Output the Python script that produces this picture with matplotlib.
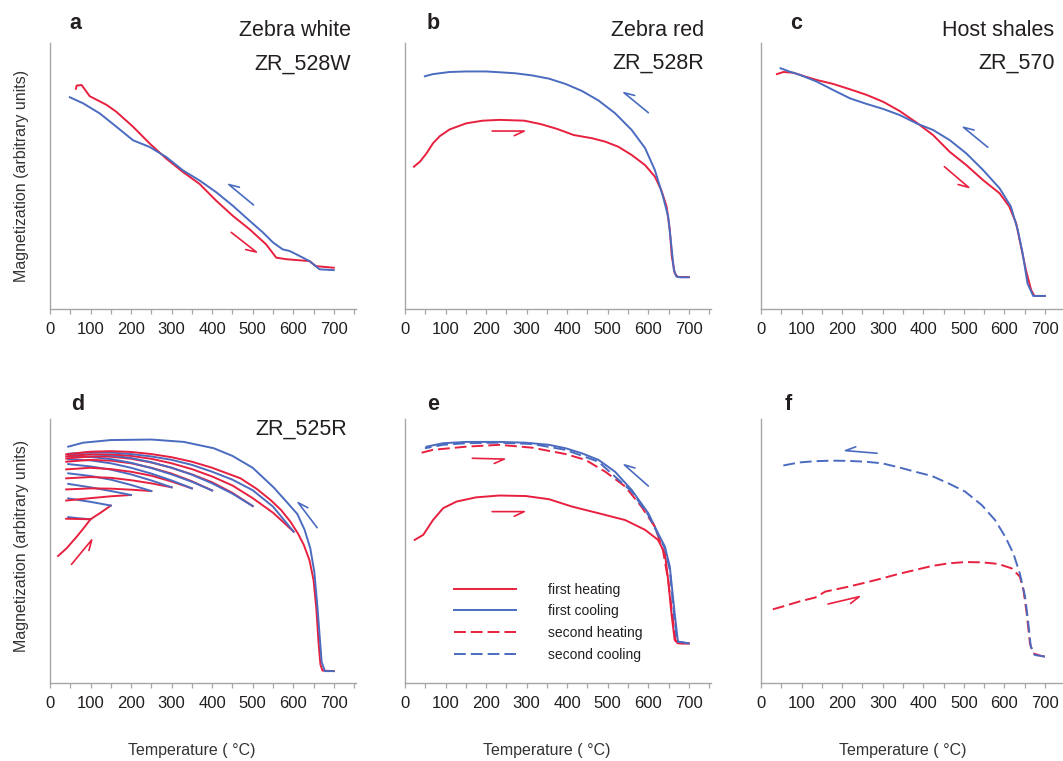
import numpy as np
import matplotlib
matplotlib.use("Agg")
import matplotlib.pyplot as plt

plt.rcParams["font.family"] = ["Liberation Sans", "DejaVu Sans"]
plt.rcParams["lines.scale_dashes"] = False

RED = "#E8203F"
BLUE = "#4A6BBF"
DASH = (8.5, 3.6)

# ---- data (temperature in degC, magnetization normalised to the axis height) ----
# a: Zebra white ZR_528W
a_heat_T = [64, 66, 78, 98, 140, 164, 205, 246, 287, 328, 369, 410, 451, 492, 533, 558, 583, 640, 656, 700]
a_heat_M = [0.828, 0.840, 0.842, 0.800, 0.767, 0.741, 0.685, 0.622, 0.565, 0.515, 0.470, 0.407, 0.350,
            0.300, 0.243, 0.193, 0.187, 0.180, 0.161, 0.155]
a_cool_T = [700, 665, 640, 607, 591, 574, 550, 525, 492, 451, 410, 369, 328, 287, 246, 205, 164, 123, 82, 49]
a_cool_M = [0.146, 0.149, 0.180, 0.206, 0.218, 0.224, 0.250, 0.288, 0.332, 0.388, 0.439, 0.483, 0.521,
            0.571, 0.609, 0.634, 0.685, 0.735, 0.773, 0.796]

# b: Zebra red ZR_528R
b_heat_T = [22, 37, 53, 69, 86, 110, 151, 192, 233, 294, 335, 375, 416, 461, 494, 526, 559, 592, 616,
            632, 645, 653, 658, 665, 673, 700]
b_heat_M = [0.535, 0.554, 0.585, 0.623, 0.650, 0.675, 0.698, 0.708, 0.711, 0.708, 0.695, 0.677, 0.654,
            0.642, 0.629, 0.610, 0.579, 0.541, 0.498, 0.447, 0.386, 0.298, 0.198, 0.135, 0.120, 0.120]
b_cool_T = [700, 681, 669, 663, 657, 649, 636, 616, 592, 559, 518, 477, 436, 396, 355, 314, 273, 233,
            200, 151, 110, 69, 49]
b_cool_M = [0.119, 0.119, 0.122, 0.148, 0.236, 0.348, 0.424, 0.523, 0.605, 0.673, 0.736, 0.784, 0.820,
            0.846, 0.866, 0.878, 0.886, 0.890, 0.893, 0.893, 0.891, 0.883, 0.875]

# c: Host shales ZR_570
c_heat_T = [39, 55, 80, 104, 137, 178, 219, 260, 301, 342, 383, 424, 465, 506, 547, 588, 612, 629,
            641, 653, 666, 674, 700]
c_heat_M = [0.883, 0.891, 0.888, 0.876, 0.861, 0.846, 0.826, 0.805, 0.779, 0.744, 0.701, 0.654, 0.591,
            0.541, 0.485, 0.435, 0.385, 0.322, 0.234, 0.147, 0.071, 0.049, 0.049]
c_cool_T = [700, 671, 657, 645, 633, 616, 588, 547, 506, 465, 424, 383, 342, 301, 260, 219, 178, 137,
            96, 71, 48]
c_cool_M = [0.049, 0.049, 0.096, 0.209, 0.297, 0.385, 0.454, 0.523, 0.585, 0.635, 0.673, 0.698, 0.729,
            0.752, 0.771, 0.792, 0.823, 0.855, 0.880, 0.892, 0.905]

# d: ZR_525R, stepwise heating/cooling cycles (Tmax 100 ... 700)
d_heat_T = [
    [20, 41, 66, 86, 100],
    [40, 70, 100, 125, 150],
    [40, 100, 150, 200],
    [40, 100, 150, 200, 250],
    [40, 100, 150, 200, 250, 300],
    [40, 100, 150, 200, 250, 300, 350],
    [40, 100, 150, 200, 250, 300, 350, 400],
    [40, 100, 150, 200, 250, 300, 350, 400, 450, 500],
    [40, 100, 150, 200, 250, 300, 350, 400, 450, 500, 550, 601],
    [40, 100, 150, 200, 250, 300, 350, 400, 470, 510, 544, 570, 593, 612, 626, 640, 650, 657, 662,
     667, 672, 700],
]
d_heat_M = [
    [0.481, 0.510, 0.554, 0.592, 0.620],
    [0.622, 0.621, 0.620, 0.645, 0.672],
    [0.691, 0.700, 0.707, 0.712],
    [0.733, 0.737, 0.736, 0.732, 0.727],
    [0.775, 0.780, 0.777, 0.768, 0.756, 0.741],
    [0.809, 0.815, 0.810, 0.800, 0.785, 0.763, 0.737],
    [0.838, 0.845, 0.842, 0.832, 0.815, 0.793, 0.764, 0.729],
    [0.850, 0.858, 0.857, 0.849, 0.835, 0.815, 0.790, 0.760, 0.720, 0.670],
    [0.858, 0.866, 0.866, 0.860, 0.849, 0.832, 0.810, 0.782, 0.748, 0.700, 0.645, 0.573],
    [0.866, 0.876, 0.878, 0.875, 0.867, 0.855, 0.838, 0.815, 0.775, 0.735, 0.693, 0.655, 0.611, 0.565,
     0.523, 0.465, 0.390, 0.280, 0.160, 0.070, 0.047, 0.045],
]
d_cool_T = [
    [100, 70, 45],
    [150, 100, 45],
    [200, 150, 100, 45],
    [250, 200, 150, 100, 45],
    [300, 250, 200, 150, 100, 45],
    [350, 300, 250, 200, 150, 100, 45],
    [400, 350, 300, 250, 200, 150, 100, 45],
    [500, 450, 400, 350, 300, 250, 200, 150, 100, 45],
    [601, 550, 500, 450, 400, 350, 300, 250, 200, 150, 100, 45],
    [700, 678, 670, 664, 659, 652, 642, 628, 610, 587, 552, 500, 450, 404, 330, 250, 150, 82, 45],
]
d_cool_M = [
    [0.620, 0.624, 0.628],
    [0.672, 0.686, 0.699],
    [0.712, 0.727, 0.741, 0.754],
    [0.727, 0.750, 0.770, 0.784, 0.794],
    [0.741, 0.767, 0.790, 0.808, 0.820, 0.829],
    [0.737, 0.767, 0.793, 0.815, 0.832, 0.843, 0.847],
    [0.729, 0.762, 0.790, 0.814, 0.834, 0.848, 0.856, 0.857],
    [0.670, 0.717, 0.756, 0.789, 0.815, 0.836, 0.852, 0.862, 0.866, 0.864],
    [0.573, 0.668, 0.730, 0.770, 0.800, 0.826, 0.845, 0.858, 0.867, 0.873, 0.874, 0.868],
    [0.045, 0.045, 0.080, 0.200, 0.300, 0.420, 0.510, 0.580, 0.640, 0.680, 0.740, 0.815, 0.860, 0.889,
     0.913, 0.922, 0.920, 0.910, 0.895],
]

# e: ZR_528R with a second heating/cooling run
e_heat1_T = [24, 45, 69, 94, 127, 175, 233, 298, 355, 412, 477, 543, 592, 624, 641, 649, 657, 665, 673, 700]
e_heat1_M = [0.542, 0.561, 0.617, 0.662, 0.687, 0.703, 0.710, 0.708, 0.696, 0.668, 0.643, 0.617, 0.580,
             0.542, 0.491, 0.390, 0.264, 0.163, 0.150, 0.150]
e_cool1_T = [700, 673, 665, 653, 641, 624, 600, 559, 518, 477, 436, 396, 355, 298, 233, 151, 94, 53]
e_cool1_M = [0.150, 0.157, 0.264, 0.441, 0.516, 0.567, 0.643, 0.731, 0.800, 0.845, 0.870, 0.889, 0.902,
             0.910, 0.913, 0.913, 0.908, 0.895]
e_heat2_T = [41, 69, 151, 233, 314, 396, 445, 494, 543, 583, 616, 636, 649, 659, 667, 673, 700]
e_heat2_M = [0.872, 0.883, 0.895, 0.902, 0.891, 0.867, 0.845, 0.800, 0.744, 0.668, 0.592, 0.504, 0.390,
             0.264, 0.163, 0.150, 0.150]
e_cool2_T = [700, 671, 663, 653, 641, 600, 559, 477, 396, 314, 233, 151, 94, 49]
e_cool2_M = [0.150, 0.157, 0.264, 0.428, 0.510, 0.636, 0.725, 0.838, 0.883, 0.905, 0.910, 0.908, 0.902, 0.889]

# f: second run only
f_heat2_T = [29, 52, 93, 134, 158, 216, 257, 298, 339, 380, 421, 462, 503, 544, 585, 618, 638, 647,
             655, 663, 671, 692, 700]
f_heat2_M = [0.279, 0.289, 0.308, 0.324, 0.346, 0.365, 0.380, 0.396, 0.413, 0.428, 0.443, 0.453, 0.458,
             0.457, 0.451, 0.434, 0.403, 0.352, 0.264, 0.150, 0.112, 0.102, 0.100]
f_cool2_T = [700, 675, 665, 659, 651, 638, 622, 602, 577, 544, 503, 462, 421, 380, 339, 298, 257, 216,
             175, 134, 93, 49]
f_cool2_M = [0.100, 0.106, 0.138, 0.226, 0.327, 0.415, 0.491, 0.554, 0.617, 0.674, 0.725, 0.756, 0.784,
             0.800, 0.817, 0.832, 0.838, 0.841, 0.842, 0.840, 0.835, 0.822]

# direction arrows: (tail T, tail M, tip T, tip M, colour)
a_arrows = [(502, 0.391, 441, 0.468, BLUE), (447, 0.288, 509, 0.214, RED)]
b_arrows = [(215, 0.669, 294, 0.669, RED), (600, 0.738, 540, 0.813, BLUE)]
c_arrows = [(559, 0.608, 499, 0.683, BLUE), (452, 0.535, 512, 0.457, RED)]
d_arrows = [(53, 0.449, 103, 0.542, RED), (659, 0.588, 612, 0.683, BLUE)]
e_arrows = [(166, 0.851, 245, 0.848, RED), (215, 0.649, 294, 0.649, RED), (600, 0.746, 541, 0.826, BLUE)]
f_arrows = [(286, 0.870, 208, 0.880, BLUE), (165, 0.299, 242, 0.327, RED)]

legend_labels = ["first heating", "first cooling", "second heating", "second cooling"]
x_major = np.arange(0, 701, 100)
x_minor = np.arange(50, 751, 100)


def half_arrow(ax, tail_t, tail_m, tip_t, tip_m, color):
    # shaft plus a single barb, barb drawn in pixel space so it looks the same in every panel
    p_tail = ax.transData.transform((tail_t, tail_m))
    p_tip = ax.transData.transform((tip_t, tip_m))
    d = (p_tail - p_tip) / np.linalg.norm(p_tail - p_tip)
    a = np.radians(25)
    rot = np.array([[np.cos(a), -np.sin(a)], [np.sin(a), np.cos(a)]])
    barb = ax.transData.inverted().transform(p_tip + rot @ d * 11)
    ax.plot([tail_t, tip_t, barb[0]], [tail_m, tip_m, barb[1]], color=color, lw=1.2,
            solid_capstyle="round", solid_joinstyle="round")


def style_axis(ax):
    ax.set_xlim(0, 755)
    ax.set_ylim(0, 1)
    for side in ["top", "right"]:
        ax.spines[side].set_visible(False)
    for side in ["left", "bottom"]:
        ax.spines[side].set_color("#A6A6A6")
        ax.spines[side].set_linewidth(1.0)
    ax.set_yticks([])
    ax.set_xticks(x_major)
    ax.set_xticks(x_minor, minor=True)
    ax.tick_params(axis="x", which="both", direction="out", length=3.5, width=0.9,
                   color="#A6A6A6", labelsize=12, labelcolor="#231F20", pad=6)


fig = plt.figure(figsize=(10.63, 7.61), dpi=100)
lefts = [0.047, 0.381, 0.716]
w = 0.288
row1 = [fig.add_axes([l, 0.594, w, 0.3495]) for l in lefts]
row2 = [fig.add_axes([l, 0.1025, w, 0.347]) for l in lefts]
ax_a, ax_b, ax_c = row1
ax_d, ax_e, ax_f = row2
for ax in row1 + row2:
    style_axis(ax)

lw = 1.4
ax_a.plot(a_heat_T, a_heat_M, color=RED, lw=lw)
ax_a.plot(a_cool_T, a_cool_M, color=BLUE, lw=lw)
ax_b.plot(b_heat_T, b_heat_M, color=RED, lw=lw)
ax_b.plot(b_cool_T, b_cool_M, color=BLUE, lw=lw)
ax_c.plot(c_heat_T, c_heat_M, color=RED, lw=lw)
ax_c.plot(c_cool_T, c_cool_M, color=BLUE, lw=lw)

for i in range(len(d_heat_T)):
    ax_d.plot(d_heat_T[i], d_heat_M[i], color=RED, lw=lw)
    ax_d.plot(d_cool_T[i], d_cool_M[i], color=BLUE, lw=lw)

l1, = ax_e.plot(e_heat1_T, e_heat1_M, color=RED, lw=lw)
l2, = ax_e.plot(e_cool1_T, e_cool1_M, color=BLUE, lw=lw)
l3, = ax_e.plot(e_heat2_T, e_heat2_M, color=RED, lw=lw, ls="--", dashes=DASH)
l4, = ax_e.plot(e_cool2_T, e_cool2_M, color=BLUE, lw=lw, ls="--", dashes=DASH)
ax_e.legend([l1, l2, l3, l4], legend_labels, frameon=False, loc="upper left",
            bbox_to_anchor=(0.16, 0.38), borderaxespad=0, borderpad=0,
            handlelength=4.5, handletextpad=2.3, labelspacing=0.55, fontsize=10,
            labelcolor="#231F20")

ax_f.plot(f_heat2_T, f_heat2_M, color=RED, lw=lw, ls="--", dashes=DASH)
ax_f.plot(f_cool2_T, f_cool2_M, color=BLUE, lw=lw, ls="--", dashes=DASH)

for ax, arrows in zip(row1 + row2, [a_arrows, b_arrows, c_arrows, d_arrows, e_arrows, f_arrows]):
    for arr in arrows:
        half_arrow(ax, *arr)

# panel letters
for ax, letter, x, y in zip(row1 + row2, "abcdef",
                            [0.065, 0.072, 0.095, 0.069, 0.072, 0.078],
                            [1.053, 1.053, 1.053, 1.034, 1.034, 1.034]):
    ax.text(x, y, letter, transform=ax.transAxes, fontsize=15.5, fontweight="bold",
            color="#231F20", va="baseline")

# sample names
for ax, name, x in zip(row1, ["Zebra white", "Zebra red", "Host shales"], [0.984, 0.977, 0.957]):
    ax.text(x, 1.026, name, transform=ax.transAxes, fontsize=15.5, ha="right",
            va="baseline", color="#231F20")
for ax, code, x, y in zip([ax_a, ax_b, ax_c, ax_d], ["ZR_528W", "ZR_528R", "ZR_570", "ZR_525R"],
                          [0.984, 0.977, 0.961, 0.971], [0.898, 0.902, 0.902, 0.939]):
    ax.text(x, y, code, transform=ax.transAxes, fontsize=15.5, ha="right",
            va="baseline", color="#231F20")

for ax in [ax_a, ax_d]:
    ax.text(-0.093, 0.5 if ax is ax_a else 0.52, "Magnetization (arbitrary units)",
            transform=ax.transAxes, rotation=90, ha="center", va="center",
            fontsize=11.5, color="#333333")
for ax in row2:
    ax.text(350, -0.254, "Temperature ( \u00b0C)", transform=ax.get_xaxis_transform(),
            ha="center", va="center", fontsize=11.5, color="#333333")

fig.savefig("out.png", dpi=100)
